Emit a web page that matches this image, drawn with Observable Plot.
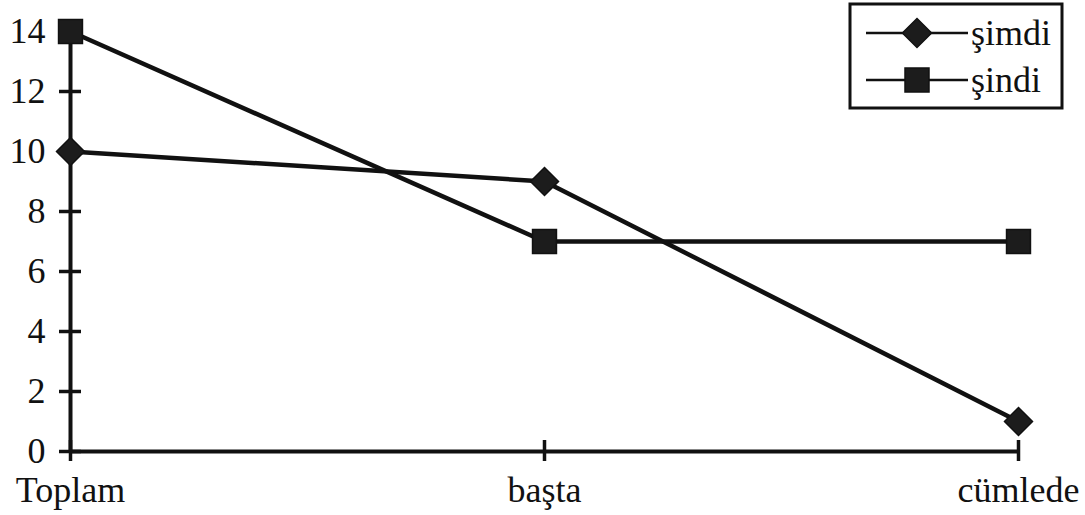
<!DOCTYPE html>
<html>
<head>
<meta charset="utf-8">
<script src="https://cdn.jsdelivr.net/npm/d3@7"></script>
<script src="https://cdn.jsdelivr.net/npm/@observablehq/plot@0.6"></script>
<style>
  html, body { margin: 0; padding: 0; background: #fff; }
  #chart { position: relative; width: 1085px; height: 515px; }
</style>
</head>
<body>
<div id="chart"></div>
<script>
const categories = ["Toplam", "başta", "cümlede"];
const seriesNames = ["şimdi", "şindi"];
const simdiValues = [10, 9, 1];
const sindiValues = [14, 7, 7];
const yTicks = [0, 2, 4, 6, 8, 10, 12, 14];

const rows = [
  ...categories.map((c, i) => ({cat: c, value: simdiValues[i], series: seriesNames[0]})),
  ...categories.map((c, i) => ({cat: c, value: sindiValues[i], series: seriesNames[1]}))
];
const simdi = rows.filter(d => d.series === seriesNames[0]);
const sindi = rows.filter(d => d.series === seriesNames[1]);

const FONT = '"Liberation Serif", "Times New Roman", serif';
const INK = "#111";

const plot = Plot.plot({
  width: 1085,
  height: 515,
  marginLeft: 69,
  marginRight: 67,
  marginTop: 31,
  marginBottom: 64,
  style: {fontFamily: FONT, fontSize: "36px", color: INK, background: "#fff", overflow: "visible"},
  x: {type: "point", domain: categories, padding: 0},
  y: {domain: [0, 14]},
  marks: [
    Plot.axisY({ticks: yTicks, tickSize: 10, tickPadding: 14, strokeWidth: 3.5, fontSize: 36, label: null}),
    Plot.axisY({ticks: yTicks, tickSize: -12, text: null, strokeWidth: 3.5, label: null}),
    Plot.axisX({tickSize: 10, tickPadding: 15, strokeWidth: 3.5, fontSize: 36, label: null}),
    Plot.axisX({tickSize: -11, text: null, strokeWidth: 3.5, label: null}),
    Plot.ruleY([0], {stroke: INK, strokeWidth: 4}),
    Plot.ruleX([categories[0]], {stroke: INK, strokeWidth: 4}),
    Plot.line(simdi, {x: "cat", y: "value", stroke: INK, strokeWidth: 4.5}),
    Plot.line(sindi, {x: "cat", y: "value", stroke: INK, strokeWidth: 4.5}),
    Plot.dot(simdi, {x: "cat", y: "value", symbol: "diamond2", r: 12.6, fill: "#1c1c1c", stroke: INK, strokeWidth: 1.5}),
    Plot.dot(sindi, {x: "cat", y: "value", symbol: "square", r: 13.5, fill: "#1c1c1c", stroke: INK, strokeWidth: 1.5})
  ]
});
document.getElementById("chart").appendChild(plot);

// Legend box drawn inside the SVG
const svg = d3.select(plot);
const lg = svg.append("g").attr("font-family", FONT).attr("font-size", 36).attr("fill", INK)
  .attr("text-anchor", "start");
lg.append("rect").attr("x", 850).attr("y", 4).attr("width", 212).attr("height", 104)
  .attr("fill", "#fff").attr("stroke", INK).attr("stroke-width", 3);
const symbols = [d3.symbolDiamond2, d3.symbolSquare];
const sizes = [540, 576];
seriesNames.forEach((name, i) => {
  const cy = 33 + i * 47;
  lg.append("line").attr("x1", 866).attr("x2", 968).attr("y1", cy).attr("y2", cy)
    .attr("stroke", INK).attr("stroke-width", 2.5);
  lg.append("path").attr("d", d3.symbol(symbols[i], sizes[i])())
    .attr("transform", `translate(917,${cy})`).attr("fill", "#1c1c1c").attr("stroke", INK).attr("stroke-width", 1.5);
  lg.append("text").attr("x", 971).attr("y", cy).attr("dy", "0.32em").attr("text-anchor", "start").text(name);
});
</script>
</body>
</html>
